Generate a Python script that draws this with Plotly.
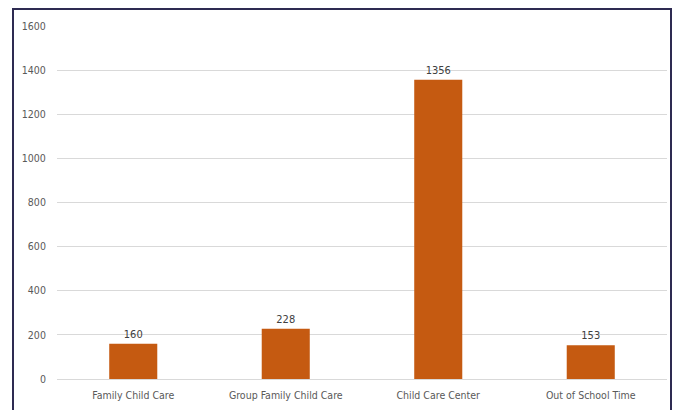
import plotly.graph_objects as go

categories = ["Family Child Care", "Group Family Child Care", "Child Care Center", "Out of School Time"]
values = [160, 228, 1356, 153]
y_ticks = [0, 200, 400, 600, 800, 1000, 1200, 1400, 1600]

FONT = "Liberation Sans Narrow, DejaVu Sans Condensed, Arial Narrow, sans-serif"

fig = go.Figure(go.Bar(
    x=categories, y=values,
    marker=dict(color="#C55A11", line=dict(width=0)),
    width=0.315,
    text=[str(v) for v in values],
    textposition="outside",
    textfont=dict(family=FONT, size=11, color="#404040"),
    cliponaxis=False,
))

# page content is offset by the 8px body margin
OFF = 8
W, H = 681 - OFF, 410 - OFF
L, R, T = 57 - OFF, 14, 26 - OFF
B = H - (379 - OFF)
pw, ph = W - L - R, H - T - B

fig.update_layout(
    width=W, height=H,
    margin=dict(l=L, r=R, t=T, b=B),
    paper_bgcolor="white", plot_bgcolor="white",
    showlegend=False,
    font=dict(family=FONT, size=10.5, color="#595959"),
    xaxis=dict(showline=False, showgrid=False, ticks="", ticklabelstandoff=8, automargin=False,
               tickfont=dict(family=FONT, size=10.5, color="#595959")),
    yaxis=dict(range=[0, 1600], tickvals=y_ticks, showgrid=True, gridcolor="#D9D9D9", automargin=False,
               gridwidth=1, zeroline=True, zerolinecolor="#D9D9D9", zerolinewidth=1,
               showline=False, ticks="outside", ticklen=8, tickcolor="rgba(0,0,0,0)",
               tickfont=dict(family=FONT, size=10.5, color="#595959")),
    shapes=[dict(type="rect", xref="paper", yref="paper",
                 x0=(13 - OFF - L) / pw, x1=(671 - OFF - L) / pw,
                 y0=(H - B - 420) / ph, y1=(H - B - 1) / ph,
                 line=dict(color="#2E2B52", width=2), fillcolor="rgba(0,0,0,0)",
                 layer="above")],
)

fig.write_html("out.html")
